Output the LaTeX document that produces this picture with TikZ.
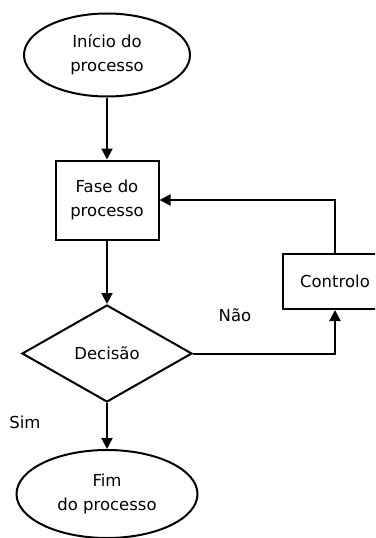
\documentclass[tikz,border=0pt]{standalone}
\usepackage{fontspec}
\setmainfont{DejaVu Sans}
\usetikzlibrary{shapes.geometric,arrows.meta}
\tikzset{
  base/.style={draw=black, line width=2pt, align=center, inner sep=0pt,
    font=\fontsize{16.5pt}{24pt}\selectfont},
  term/.style={base, ellipse},
  proc/.style={base, rectangle},
  choice/.style={base, diamond},
  conn/.style={line width=2pt, -{Triangle[length=11pt,width=11pt]}},
  lbl/.style={font=\fontsize{16.5pt}{24pt}\selectfont, inner sep=0pt}
}
\begin{document}
\begin{tikzpicture}[x=1pt,y=-1pt]
  \useasboundingbox (0,0) rectangle (375,538);
  \clip (0,0) rectangle (375,538);
  \fill[white] (0,0) rectangle (375,538);

  % flow nodes
  \node[term, minimum width=166pt, minimum height=83pt] (start) at (107,55) {Início do\\processo};
  \node[proc, minimum width=103pt, minimum height=79pt] (fase) at (107,200) {Fase do\\processo};
  \node[choice, minimum width=170pt, minimum height=97pt] (dec) at (107,353.5) {Decisão};
  \node[proc, minimum width=104pt, minimum height=55pt] (ctrl) at (335,281.5) {Controlo};
  \node[term, minimum width=181pt, minimum height=88pt] (fim) at (107,494) {Fim\\do processo};

  % branch labels
  \node[lbl] (nao) at (235,315) {Não};
  \node[lbl] (sim) at (25,422) {Sim};

  % connectors
  \draw[conn] (start.south) -- (fase.north);
  \draw[conn] (fase.south) -- (dec.north);
  \draw[conn] (dec.south) -- (fim.north);
  \draw[conn] (dec.east) -| (ctrl.south);
  \draw[conn] (ctrl.north) |- (fase.east);
\end{tikzpicture}
\end{document}
